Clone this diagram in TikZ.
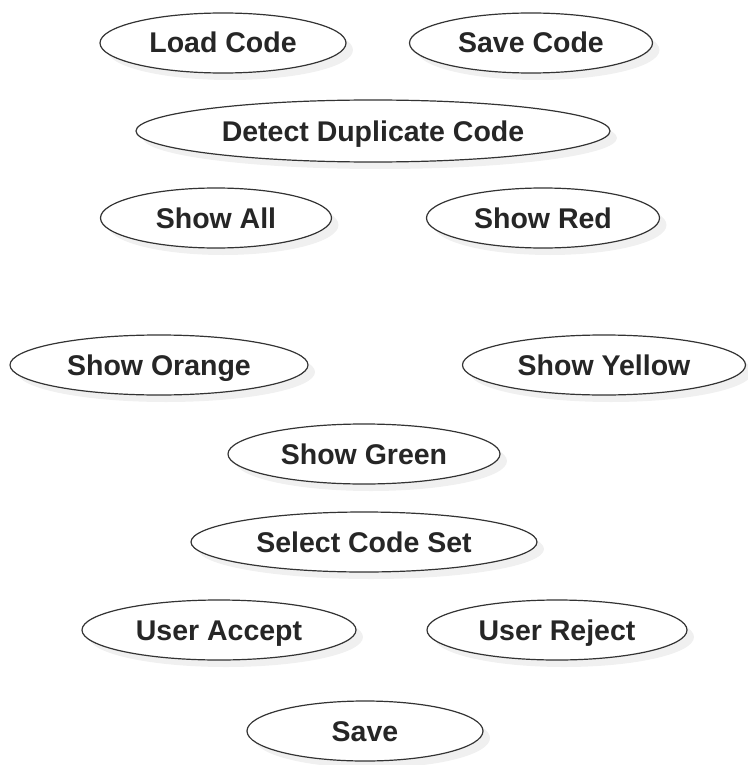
\documentclass[tikz,border=0pt]{standalone}
\usepackage{fontspec}
\setmainfont{Liberation Sans}
\usetikzlibrary{shapes.geometric, shadows}
\begin{document}
\begin{tikzpicture}[x=1pt, y=-1pt, line cap=round, line join=round, font=\fontsize{28.5}{30}\selectfont\bfseries]
	\tikzset{usecase/.style={ellipse, draw=black!80, line width=1.2pt, fill=white, text=black!85, inner sep=0pt, text height=20pt, text depth=0pt, minimum height=60pt, drop shadow={opacity=0.12, shadow xshift=7pt, shadow yshift=-7pt}}}
	\useasboundingbox (0,0) rectangle (747,765);
	\node[usecase, minimum width=246pt] (load) at (223,43) {Load Code};
	\node[usecase, minimum width=243pt] (savecode) at (531,43) {Save Code};
	\node[usecase, minimum width=474pt, minimum height=62pt] (detect) at (373,131) {Detect Duplicate Code};
	\node[usecase, minimum width=231pt] (all) at (216,218) {Show All};
	\node[usecase, minimum width=233pt] (red) at (543,218) {Show Red};
	\node[usecase, minimum width=298pt] (orange) at (159,365) {Show Orange};
	\node[usecase, minimum width=283pt] (yellow) at (604,365) {Show Yellow};
	\node[usecase, minimum width=272pt] (green) at (364,454) {Show Green};
	\node[usecase, minimum width=346pt] (select) at (364,542) {Select Code Set};
	\node[usecase, minimum width=274pt] (accept) at (219,630) {User Accept};
	\node[usecase, minimum width=260pt] (reject) at (557,630) {User Reject};
	\node[usecase, minimum width=236pt] (save) at (365,731) {Save};
\end{tikzpicture}
\end{document}
